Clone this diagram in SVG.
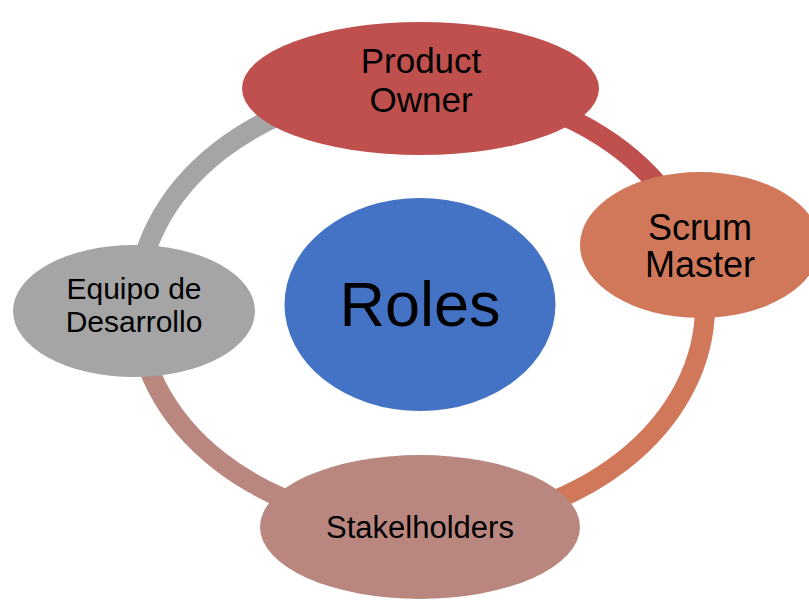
<svg xmlns="http://www.w3.org/2000/svg" width="809" height="601" viewBox="0 0 809 601">
  <style>
    .ring { fill: none; stroke-width: 20; stroke-linecap: butt; }
    .lbl { font-family: "Liberation Sans", Arial, sans-serif; fill: #000000; text-anchor: middle; }
  </style>
  <rect width="809" height="601" fill="#ffffff"/>

  <!-- cycle ring, one coloured arc per step -->
  <g id="connectors">
    <path class="ring" stroke="#C0504D" d="M 421 86 A 284 220 0 0 1 705 306"/>
    <path class="ring" stroke="#D1785A" d="M 705 306 A 284 220 0 0 1 421 526"/>
    <path class="ring" stroke="#B9877F" d="M 421 526 A 284 220 0 0 1 137 306"/>
    <path class="ring" stroke="#A5A5A5" d="M 137 306 A 284 220 0 0 1 421 86"/>
  </g>

  <g id="product-owner">
    <ellipse cx="420.5" cy="88.5" rx="178.5" ry="66.5" fill="#C0504D"/>
    <text class="lbl" x="421" y="73" font-size="35">Product</text>
    <text class="lbl" x="421" y="112" font-size="35">Owner</text>
  </g>

  <g id="scrum-master">
    <ellipse cx="700" cy="245" rx="120" ry="73" fill="#D1785A"/>
    <text class="lbl" x="700" y="240" font-size="36">Scrum</text>
    <text class="lbl" x="700" y="277" font-size="36">Master</text>
  </g>

  <g id="equipo-desarrollo">
    <ellipse cx="134" cy="311" rx="121" ry="66" fill="#A5A5A5"/>
    <text class="lbl" x="134" y="299" font-size="30">Equipo de</text>
    <text class="lbl" x="134" y="332" font-size="30">Desarrollo</text>
  </g>

  <g id="stakeholders">
    <ellipse cx="420" cy="527" rx="160" ry="72" fill="#B9877F"/>
    <text class="lbl" x="420" y="538" font-size="31">Stakelholders</text>
  </g>

  <g id="roles">
    <ellipse cx="420" cy="304.5" rx="135.5" ry="106.5" fill="#4472C4"/>
    <text class="lbl" x="420" y="326" font-size="63">Roles</text>
  </g>
</svg>
